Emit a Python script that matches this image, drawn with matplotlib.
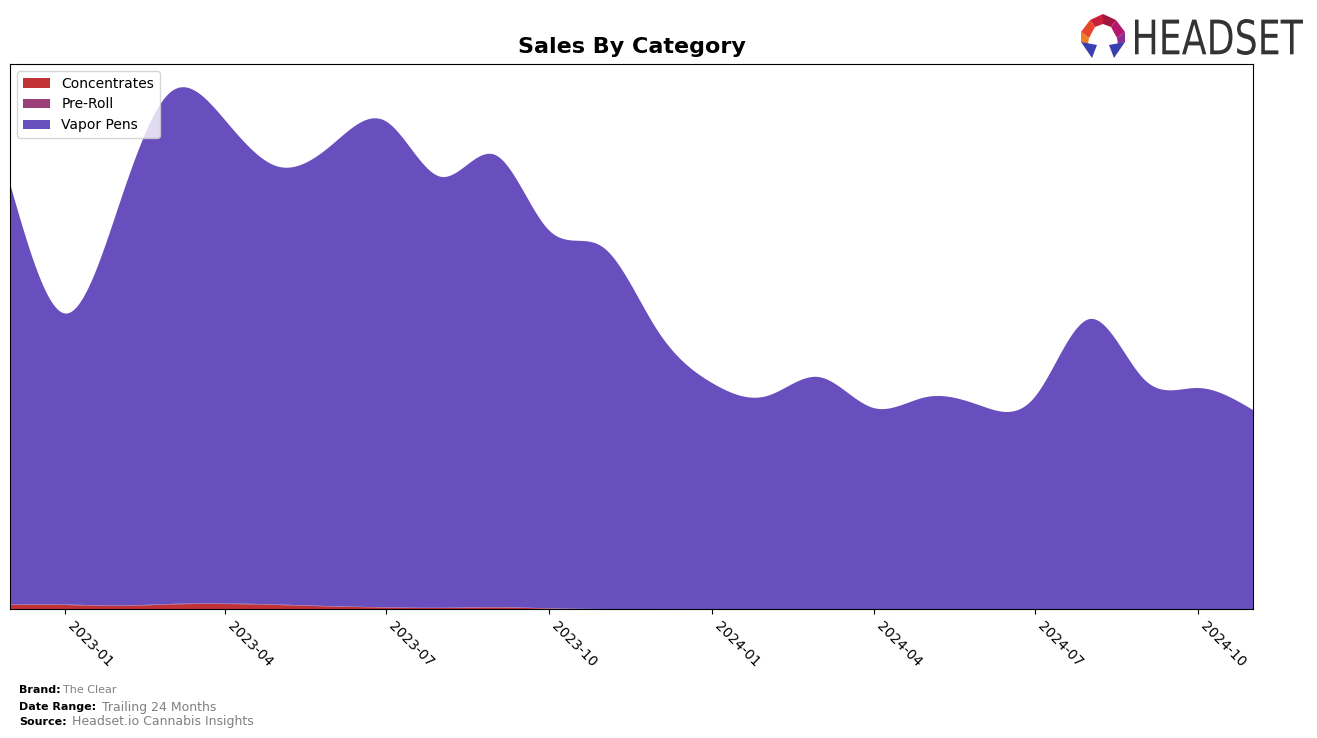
import numpy as np
import pandas as pd
import matplotlib
matplotlib.use("Agg")
import matplotlib.pyplot as plt
import matplotlib.dates as mdates
from matplotlib.textpath import TextPath
from matplotlib.patches import PathPatch, Polygon
from matplotlib.transforms import Affine2D
from matplotlib.font_manager import FontProperties

MONTHS = pd.date_range("2022-12-01", "2024-11-01", freq="MS")
CATEGORIES = ["Concentrates", "Pre-Roll", "Vapor Pens"]
COLORS = ["#C03236", "#9B3F7B", "#694FBD"]

CONCENTRATES = [4, 4, 3, 4.5, 5, 4, 2.5, 1.5, 1, 1.5, 0.5, 0, 0, 0, 0, 0,
                0, 0, 0, 0, 0, 0, 0, 0]
PRE_ROLL = [0.5, 0.5, 0.5, 0.5, 0.5, 0.5, 0.3, 0.2, 0.2, 0.3, 0.2, 0, 0, 0,
            0, 0, 0, 0, 0, 0, 0, 0, 0, 0]
VAPOR_PENS = [421, 291, 403, 511, 484, 438, 462, 486, 431, 452, 378, 361,
              279, 226, 213, 232, 201, 212, 203, 212, 290, 229, 221, 199]


def spline(x, y, n=600):
    # natural cubic spline, just for drawing the curve smooth
    x = np.asarray(x, float)
    y = np.asarray(y, float)
    k = len(x)
    h = np.diff(x)
    A = np.zeros((k, k))
    b = np.zeros(k)
    A[0, 0] = A[-1, -1] = 1
    for i in range(1, k - 1):
        A[i, i - 1] = h[i - 1]
        A[i, i] = 2 * (h[i - 1] + h[i])
        A[i, i + 1] = h[i]
        b[i] = 6 * ((y[i + 1] - y[i]) / h[i] - (y[i] - y[i - 1]) / h[i - 1])
    M = np.linalg.solve(A, b)
    xs = np.linspace(x[0], x[-1], n)
    idx = np.clip(np.searchsorted(x, xs) - 1, 0, k - 2)
    x0, x1 = x[idx], x[idx + 1]
    hh = x1 - x0
    t0, t1 = x1 - xs, xs - x0
    ys = (M[idx] * t0 ** 3 / (6 * hh) + M[idx + 1] * t1 ** 3 / (6 * hh)
          + (y[idx] / hh - M[idx] * hh / 6) * t0
          + (y[idx + 1] / hh - M[idx + 1] * hh / 6) * t1)
    return xs, np.clip(ys, 0, None)


fig = plt.figure(figsize=(13.17, 7.38), dpi=100)
ax = fig.add_axes([10 / 1317, 129 / 738, 1243 / 1317, 545 / 738])

xnum = mdates.date2num(MONTHS)
series = []
for vals in (CONCENTRATES, PRE_ROLL, VAPOR_PENS):
    xs, ys = spline(xnum, vals)
    series.append(ys)

ax.stackplot(xs, *series, labels=CATEGORIES, colors=COLORS)
ax.set_xlim(xnum[0], xnum[-1])
ax.set_ylim(0, 545)
ax.set_yticks([])
ax.xaxis.set_major_locator(mdates.MonthLocator(bymonth=[1, 4, 7, 10]))
ax.xaxis.set_major_formatter(mdates.DateFormatter("%Y-%m"))
plt.setp(ax.get_xticklabels(), rotation=-45, ha="left", fontsize=10)
ax.set_title("Sales By Category", fontsize=16, fontweight="bold", pad=8)
ax.legend(loc="upper left", fontsize=10, framealpha=0.8)

# footer
fig.text(19 / 1317, 1 - 690 / 738, "Brand:", fontsize=8, fontweight="bold", va="center")
fig.text(63 / 1317, 1 - 690 / 738, "The Clear", fontsize=8, color="gray", va="center")
fig.text(19 / 1317, 1 - 707 / 738, "Date Range:", fontsize=8, fontweight="bold", va="center")
fig.text(102 / 1317, 1 - 707 / 738, "Trailing 24 Months", fontsize=9, color="gray", va="center")
fig.text(19 / 1317, 1 - 722 / 738, "Source:", fontsize=8, fontweight="bold", va="center")
fig.text(72 / 1317, 1 - 722 / 738, "Headset.io Cannabis Insights", fontsize=9, color="gray", va="center")

# logo: icon + squeezed wordmark, drawn in pixel coordinates
logo = fig.add_axes([0, 0, 1, 1], zorder=5)
logo.set_xlim(0, 1317)
logo.set_ylim(738, 0)
logo.axis("off")
pieces = [
    ([(1090, 20), (1103, 14), (1103, 24), (1095, 27)], "#C8203C"),
    ([(1103, 14), (1116, 20), (1111, 27), (1103, 24)], "#A3173F"),
    ([(1116, 20), (1125, 32), (1117, 38), (1111, 27)], "#B5176F"),
    ([(1090, 20), (1095, 27), (1089, 38), (1081, 32)], "#E8472E"),
    ([(1081, 32), (1089, 38), (1088, 44), (1081, 42)], "#F07E22"),
    ([(1117, 38), (1125, 32), (1125, 42), (1118, 44)], "#8E2D91"),
    ([(1081, 42), (1097, 45), (1092, 58)], "#3A3FB0"),
    ([(1125, 42), (1109, 45), (1114, 58)], "#3A3FB0"),
]
for pts, c in pieces:
    logo.add_patch(Polygon(pts, closed=True, color=c, lw=0))

tp = TextPath((0, 0), "HEADSET", size=40, prop=FontProperties(family="DejaVu Sans"))
bb = tp.get_extents()
sx = 168 / bb.width
sy = 36 / bb.height
tr = Affine2D().translate(-bb.x0, -bb.y0).scale(sx, -sy).translate(1135, 55)
logo.add_patch(PathPatch(tr.transform_path(tp), color="#333333", lw=0))

fig.savefig("out.png", dpi=100)
